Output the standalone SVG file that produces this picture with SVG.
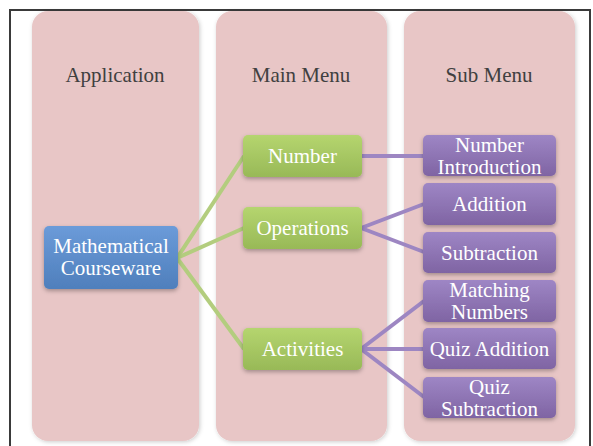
<svg xmlns="http://www.w3.org/2000/svg" width="593" height="446" viewBox="0 0 593 446">
<defs>
<linearGradient id="gBlue" x1="0" y1="0" x2="0" y2="1"><stop offset="0" stop-color="#6b9bd9"/><stop offset="1" stop-color="#4f7fbc"/></linearGradient>
<linearGradient id="gGreen" x1="0" y1="0" x2="0" y2="1"><stop offset="0" stop-color="#b5d56f"/><stop offset="1" stop-color="#98b957"/></linearGradient>
<linearGradient id="gPurple" x1="0" y1="0" x2="0" y2="1"><stop offset="0" stop-color="#9e86c5"/><stop offset="1" stop-color="#7f64a3"/></linearGradient>
<filter id="sh" x="-20%" y="-20%" width="140%" height="140%"><feDropShadow dx="0" dy="2" stdDeviation="2" flood-color="#000" flood-opacity="0.3"/></filter>
<filter id="shc" x="-10%" y="-10%" width="120%" height="120%"><feDropShadow dx="1" dy="1" stdDeviation="2" flood-color="#000" flood-opacity="0.2"/></filter>
</defs>
<style>
.col{fill:#e8c6c6;filter:url(#shc)}
.hdr{font-family:"Liberation Serif","Times New Roman",serif;font-size:21px;fill:#404040;text-anchor:middle}
.lbl{font-family:"Liberation Serif","Times New Roman",serif;font-size:21px;fill:#ffffff;text-anchor:middle}
.blue{fill:url(#gBlue);filter:url(#sh)}
.green{fill:url(#gGreen);filter:url(#sh)}
.purple{fill:url(#gPurple);filter:url(#sh)}
.cg{stroke:#b3cd7e;stroke-width:4;fill:none}
.cp{stroke:#9d86c2;stroke-width:4;fill:none}
</style>
<rect x="0" y="0" width="593" height="446" fill="#ffffff"/>
<path d="M10,446 V10 H590 V446" fill="none" stroke="#3a3a3a" stroke-width="2"/>
<g id="col-application"><rect class="col" x="32" y="11" width="167" height="430" rx="16"/><text class="hdr" x="115" y="82">Application</text></g>
<g id="col-mainmenu"><rect class="col" x="216" y="11" width="171" height="430" rx="16"/><text class="hdr" x="301" y="82">Main Menu</text></g>
<g id="col-submenu"><rect class="col" x="404" y="11" width="171" height="430" rx="16"/><text class="hdr" x="489" y="82">Sub Menu</text></g>
<g id="connectors">
<line class="cg" x1="177" y1="258" x2="244" y2="156"/>
<line class="cg" x1="177" y1="258" x2="244" y2="228"/>
<line class="cg" x1="177" y1="258" x2="244" y2="349"/>
<line class="cp" x1="361" y1="156" x2="424" y2="156"/>
<line class="cp" x1="361" y1="228" x2="424" y2="204"/>
<line class="cp" x1="361" y1="228" x2="424" y2="252"/>
<line class="cp" x1="361" y1="349" x2="424" y2="301"/>
<line class="cp" x1="361" y1="349" x2="424" y2="349"/>
<line class="cp" x1="361" y1="349" x2="424" y2="397"/>
</g>
<g id="node-mathematical-courseware"><rect class="blue" x="44" y="226" width="134" height="63" rx="5"/><text class="lbl" x="111" y="253">Mathematical<tspan x="111" dy="22">Courseware</tspan></text></g>
<g id="node-number"><rect class="green" x="243" y="135" width="119" height="42" rx="5"/><text class="lbl" x="302.5" y="163">Number</text></g>
<g id="node-operations"><rect class="green" x="243" y="207" width="119" height="42" rx="5"/><text class="lbl" x="302.5" y="235">Operations</text></g>
<g id="node-activities"><rect class="green" x="243" y="328" width="119" height="42" rx="5"/><text class="lbl" x="302.5" y="356">Activities</text></g>
<g id="node-number-introduction"><rect class="purple" x="423" y="135" width="133" height="41" rx="5"/><text class="lbl" x="489.5" y="151.5">Number<tspan x="489.5" dy="22">Introduction</tspan></text></g>
<g id="node-addition"><rect class="purple" x="423" y="183" width="133" height="42" rx="5"/><text class="lbl" x="489.5" y="211">Addition</text></g>
<g id="node-subtraction"><rect class="purple" x="423" y="232" width="133" height="41" rx="5"/><text class="lbl" x="489.5" y="260">Subtraction</text></g>
<g id="node-matching-numbers"><rect class="purple" x="423" y="280" width="133" height="42" rx="5"/><text class="lbl" x="489.5" y="296.5">Matching<tspan x="489.5" dy="22">Numbers</tspan></text></g>
<g id="node-quiz-addition"><rect class="purple" x="423" y="328" width="133" height="41" rx="5"/><text class="lbl" x="489.5" y="356">Quiz Addition</text></g>
<g id="node-quiz-subtraction"><rect class="purple" x="423" y="377" width="133" height="41" rx="5"/><text class="lbl" x="489.5" y="393.5">Quiz<tspan x="489.5" dy="22">Subtraction</tspan></text></g>
</svg>
